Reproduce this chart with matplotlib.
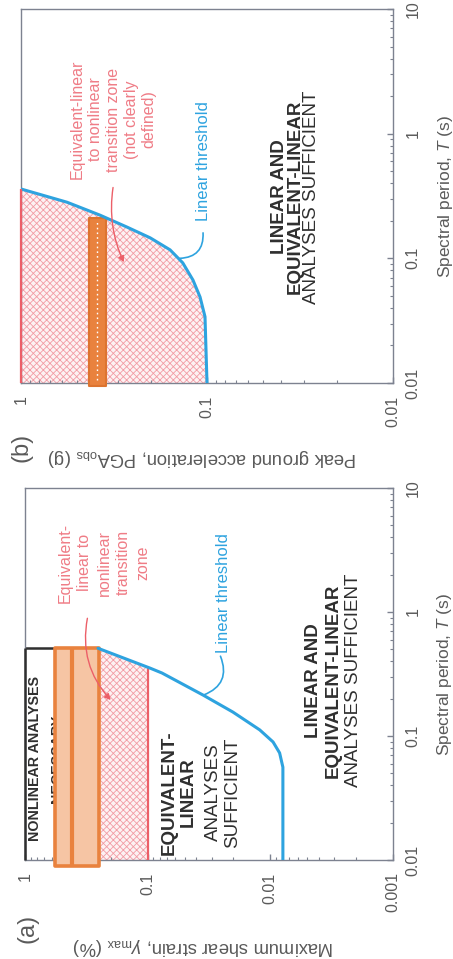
import numpy as np
import matplotlib
matplotlib.use("Agg")
import matplotlib.pyplot as plt
from matplotlib.patches import Rectangle
from matplotlib.ticker import FixedLocator, LogLocator, NullFormatter

# ─────────────────────────────────────────────
#  DATA
# ─────────────────────────────────────────────
# panel (a): linear threshold, max shear strain (%) vs spectral period (s)
a_strain = [0.0079, 0.0079, 0.0084, 0.0095, 0.0122, 0.0202, 0.0354, 0.0764, 0.0958, 0.254]
a_period = [0.01, 0.056, 0.073, 0.0895, 0.112, 0.156, 0.214, 0.322, 0.353, 0.51]
a_eql_limit = 0.1            # strain where EQL stops being enough
a_zone = (0.25, 0.57)        # transition zone strain range
a_zone_mid = 0.41
a_zone_top = 0.51            # period where zone stops
a_xticks = [1, 0.1, 0.01, 0.001]
a_xlabels = ["1", "0.1", "0.01", "0.001"]

# panel (b): linear threshold, PGA (g) vs spectral period (s)
b_period = [0.01, 0.034, 0.049, 0.067, 0.092, 0.117, 0.146, 0.178, 0.222, 0.282, 0.36]
b_pga = [0.100, 0.1025, 0.109, 0.119, 0.135, 0.158, 0.202, 0.269, 0.376, 0.566, 1.0]
b_zone = (0.35, 0.43)
b_zone_mid = 0.39
b_zone_top = 0.21
b_xticks = [1, 0.1, 0.01]
b_xlabels = ["1", "0.1", "0.01"]

period_ticks = [0.01, 0.1, 1, 10]
period_labels = ["0.01", "0.1", "1", "10"]

# ─────────────────────────────────────────────
#  STYLE
# ─────────────────────────────────────────────
BLUE = "#2ea3df"
RED = "#ec5f68"
RED_TXT = "#ef7c86"
HATCH = "#f29ca5"
ORANGE = "#e9823e"
ORANGE_FILL = "#f6c5a4"
AXIS = "#7d8290"
TXT = "#5a5a5a"
DARK = "#2f2f2f"

plt.rcParams["font.family"] = ["Liberation Sans", "DejaVu Sans"]
plt.rcParams["mathtext.fontset"] = "custom"
plt.rcParams["mathtext.rm"] = "Liberation Sans"
plt.rcParams["mathtext.it"] = "Liberation Sans:italic"
plt.rcParams["hatch.linewidth"] = 0.6


def style_axes(ax, xlim, xticks, xlabels):
    ax.set_xscale("log")
    ax.set_yscale("log")
    ax.set_xlim(*xlim)
    ax.set_ylim(0.01, 10)
    ax.xaxis.set_ticks_position("bottom")
    ax.yaxis.tick_right()
    ax.xaxis.set_major_locator(FixedLocator(xticks))
    ax.yaxis.set_major_locator(FixedLocator(period_ticks))
    ax.xaxis.set_minor_locator(LogLocator(base=10, subs=np.arange(2, 10)))
    ax.yaxis.set_minor_locator(LogLocator(base=10, subs=np.arange(2, 10)))
    ax.xaxis.set_minor_formatter(NullFormatter())
    ax.yaxis.set_minor_formatter(NullFormatter())
    ax.set_xticklabels(xlabels, rotation=90, va="top", ha="center")
    ax.set_yticklabels(period_labels, rotation=90, va="center", ha="left")
    ax.tick_params(which="both", direction="in", color=AXIS,
                   labelcolor=TXT, labelsize=11.5, pad=9)
    ax.tick_params(which="major", length=4, width=1)
    ax.tick_params(which="minor", length=2.5, width=0.8)
    for sp in ax.spines.values():
        sp.set_color(AXIS)
        sp.set_linewidth(1.0)
    ax.text(1.14, 0.5, "Spectral period, $T$ (s)", transform=ax.transAxes,
            rotation=90, ha="center", va="center", fontsize=12.5, color=TXT)


def block(ax, x_bold, x_reg, y, bold, reg, size=13.5, ls=1.05):
    ax.text(x_bold, y, bold, rotation=90, ha="center", va="center",
            fontsize=size, fontweight="bold", color=DARK,
            linespacing=ls, multialignment="center")
    ax.text(x_reg, y, reg, rotation=90, ha="center", va="center",
            fontsize=size, color=DARK,
            linespacing=ls, multialignment="center")


fig = plt.figure(figsize=(4.53, 9.59), dpi=100)

# ─────────────────────────────────────────────
#  PANEL (b)  (top of the page)
# ─────────────────────────────────────────────
ax_b = fig.add_axes([21 / 453, 1 - 383 / 959, 372 / 453, 374 / 959])
style_axes(ax_b, (1, 0.01), b_xticks, b_xlabels)

ax_b.fill_betweenx(b_period, b_pga, 1.0, facecolor="#fdf2f3",
                   edgecolor=HATCH, hatch="xxxxx", linewidth=0, zorder=1)
ax_b.plot(b_pga, b_period, color=BLUE, lw=2.2, solid_capstyle="round", zorder=4)
ax_b.vlines(1.0, 0.01, b_period[-1], color=RED, lw=1.6, clip_on=False, zorder=5)

rb = Rectangle((b_zone[0], 0.0094), b_zone[1] - b_zone[0], b_zone_top - 0.0094,
               facecolor=ORANGE, edgecolor="#dd7430", lw=1.5,
               joinstyle="round", clip_on=False, zorder=3)
ax_b.add_patch(rb)
ax_b.vlines(b_zone_mid, 0.0105, b_zone_top * 0.93, color="white", lw=1.0,
            linestyles=(0, (1.2, 2.2)), zorder=3.5)

ax_b.text(0.32, 1.3, "Equivalent-linear\nto nonlinear\ntransition zone\n(not clearly\ndefined)",
          rotation=90, ha="center", va="center", fontsize=11.5, color=RED_TXT,
          linespacing=1.25, multialignment="center", zorder=6)
ax_b.annotate("", xy=(0.28, 0.093), xytext=(0.32, 0.37),
              arrowprops=dict(arrowstyle="-|>,head_length=0.35,head_width=0.18",
                              color=RED, lw=1.0, shrinkA=0, shrinkB=0,
                              connectionstyle="arc3,rad=0.15"), zorder=6)
ax_b.text(0.105, 0.6, "Linear threshold", rotation=90, ha="center",
          va="center", fontsize=12, color=BLUE, zorder=6)
ax_b.annotate("", xy=(0.14, 0.10), xytext=(0.105, 0.16),
              arrowprops=dict(arrowstyle="-", color=BLUE, lw=1.2,
                              shrinkA=0, shrinkB=0,
                              connectionstyle="arc3,rad=-0.5"), zorder=6)
block(ax_b, 0.037, 0.0275, 0.31, "LINEAR AND\nEQUIVALENT-LINEAR",
      "ANALYSES SUFFICIENT", ls=0.95)

ax_b.text(0.487, -0.198, "Peak ground acceleration, PGA$_{\\rm obs}$ (g)",
          transform=ax_b.transAxes, rotation=180, ha="center", va="center",
          fontsize=13.3, color=TXT)
ax_b.text(0.0, -0.172, "(b)", transform=ax_b.transAxes, rotation=90,
          ha="center", va="center", fontsize=17, color=TXT)

# ─────────────────────────────────────────────
#  PANEL (a)  (bottom of the page)
# ─────────────────────────────────────────────
ax_a = fig.add_axes([25 / 453, 1 - 860 / 959, 368 / 453, 372 / 959])
style_axes(ax_a, (1, 0.001), a_xticks, a_xlabels)

a_s = np.array(a_strain)
a_p = np.array(a_period)
# period where the threshold crosses the EQL strain limit
t_eql = 10 ** np.interp(np.log10(a_eql_limit), np.log10(a_s[1:]), np.log10(a_p[1:]))
sel = a_s > a_eql_limit
hx = np.concatenate([[a_eql_limit], a_s[sel]])
hy = np.concatenate([[t_eql], a_p[sel]])
ax_a.fill_between(hx, 0.01, hy, facecolor="#fdf2f3",
                  edgecolor=HATCH, hatch="xxxxx", linewidth=0, zorder=1)
ax_a.plot(a_strain, a_period, color=BLUE, lw=2.2, solid_capstyle="round", zorder=4)
ax_a.vlines(a_eql_limit, 0.01, t_eql, color=RED, lw=1.6, zorder=3)

# nonlinear region border
ax_a.vlines(1.0, 0.01, a_zone_top, color=DARK, lw=1.8, clip_on=False, zorder=5)
ax_a.hlines(a_zone_top, a_zone[0], 1.0, color=DARK, lw=1.8, clip_on=False, zorder=2)

ax_a.text(0.675, 0.066, "NONLINEAR ANALYSES\nNECESSARY", rotation=90,
          ha="center", va="center", fontsize=10.3, fontweight="bold",
          color=DARK, linespacing=1.7, zorder=2)

ra = Rectangle((a_zone[0], 0.0089), a_zone[1] - a_zone[0], a_zone_top - 0.0089,
               facecolor=ORANGE_FILL, edgecolor=ORANGE, lw=2.6,
               joinstyle="round", clip_on=False, zorder=3)
ax_a.add_patch(ra)
ax_a.vlines(a_zone_mid, 0.0089, a_zone_top, color=ORANGE, lw=3.0,
            clip_on=False, zorder=3.5)

ax_a.text(0.227, 2.5, "Equivalent-\nlinear to\nnonlinear\ntransition\nzone",
          rotation=90, ha="center", va="center", fontsize=11.5, color=RED_TXT,
          linespacing=1.38, multialignment="center", zorder=6)
ax_a.annotate("", xy=(0.20, 0.195), xytext=(0.31, 0.89),
              arrowprops=dict(arrowstyle="-|>,head_length=0.35,head_width=0.18",
                              color=RED, lw=1.0, shrinkA=0, shrinkB=0,
                              connectionstyle="arc3,rad=0.25"), zorder=6)
ax_a.text(0.0243, 1.42, "Linear threshold", rotation=90, ha="center",
          va="center", fontsize=12, color=BLUE, zorder=6)
ax_a.annotate("", xy=(0.035, 0.214), xytext=(0.0255, 0.44),
              arrowprops=dict(arrowstyle="-", color=BLUE, lw=1.2,
                              shrinkA=0, shrinkB=0,
                              connectionstyle="arc3,rad=-0.5"), zorder=6)

block(ax_a, 0.0556, 0.0243, 0.035, "EQUIVALENT-\nLINEAR", "ANALYSES\nSUFFICIENT",
      ls=1.15)
block(ax_a, 0.0037, 0.0021, 0.28, "LINEAR AND\nEQUIVALENT-LINEAR",
      "ANALYSES SUFFICIENT", ls=1.15)

ax_a.text(0.484, -0.233, "Maximum shear strain, $\\gamma_{\\rm max}$ (%)",
          transform=ax_a.transAxes, rotation=180, ha="center", va="center",
          fontsize=13.3, color=TXT)
ax_a.text(0.008, -0.183, "(a)", transform=ax_a.transAxes, rotation=90,
          ha="center", va="center", fontsize=17, color=TXT)

fig.savefig("out.png", dpi=100, facecolor="white")
